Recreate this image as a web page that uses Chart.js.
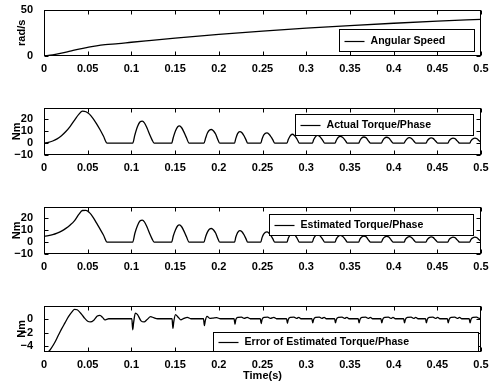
<!DOCTYPE html>
<html><head><meta charset="utf-8">
<script src="https://cdn.jsdelivr.net/npm/chart.js@4.4.0/dist/chart.umd.min.js"></script>
<style>
html,body{margin:0;padding:0;background:#fff;}
#wrap{position:relative;width:494px;height:383px;background:#fff;overflow:hidden;}
canvas{position:absolute;left:0;}
</style></head><body>
<div id="wrap">
<canvas id="c1" width="494" height="80" style="top:0px"></canvas>
<canvas id="c2" width="494" height="80" style="top:98px"></canvas>
<canvas id="c3" width="494" height="80" style="top:197px"></canvas>
<canvas id="c4" width="494" height="87" style="top:296px"></canvas>
</div>
<script>
// ---------- DATA ----------
const xTicks = [0, 0.05, 0.1, 0.15, 0.2, 0.25, 0.3, 0.35, 0.4, 0.45, 0.5];
const xTickLabels = ['0', '0.05', '0.1', '0.15', '0.2', '0.25', '0.3', '0.35', '0.4', '0.45', '0.5'];

const speedTicks = [0, 50];
const speedTickLabels = ['0', '50'];
const torqueTicks = [-10, 0, 10, 20];
const torqueTickLabels = ['\u221210', '0', '10', '20'];
const errorTicks = [-4, -2, 0];
const errorTickLabels = ['\u22124', '\u22122', '0'];

const speedTime = [0, 0.01, 0.02, 0.03, 0.04, 0.05, 0.06, 0.07, 0.085, 0.1, 0.12, 0.15, 0.2, 0.25, 0.3, 0.35, 0.4, 0.45, 0.5];
const speedValue = [0, 1.2, 3.0, 5.2, 7.4, 9.3, 11.0, 12.2, 13.3, 14.8, 16.6, 19.2, 23.2, 26.8, 30.0, 32.8, 35.3, 37.6, 39.5];

const torqueTime = [
 0, 0.005, 0.01, 0.015, 0.02, 0.025, 0.03, 0.035, 0.04, 0.044, 0.048, 0.052, 0.056, 0.06, 0.064, 0.068, 0.0722,
 0.1015, 0.104, 0.107, 0.110, 0.1125, 0.115, 0.118, 0.121, 0.1235, 0.126,
 0.146, 0.148, 0.1505, 0.153, 0.155, 0.1575, 0.160, 0.163, 0.166,
 0.183, 0.185, 0.187, 0.1895, 0.1915, 0.194, 0.1965, 0.1985, 0.201,
 0.218, 0.2195, 0.2215, 0.224, 0.2265, 0.229, 0.231, 0.233,
 0.248, 0.2495, 0.2515, 0.255, 0.2575, 0.26, 0.262, 0.264,
 0.278, 0.2795, 0.2815, 0.284, 0.2865, 0.289, 0.2905, 0.292,
 0.307, 0.3085, 0.3105, 0.313, 0.3155, 0.318, 0.3195, 0.321,
 0.333, 0.3345, 0.3365, 0.339, 0.3415, 0.344, 0.3455, 0.347,
 0.360, 0.3615, 0.3635, 0.366, 0.3685, 0.3705, 0.372, 0.3735,
 0.386, 0.3875, 0.3895, 0.392, 0.3945, 0.3965, 0.398, 0.3995,
 0.412, 0.4135, 0.4155, 0.418, 0.4205, 0.4225, 0.424, 0.4255,
 0.437, 0.4385, 0.4405, 0.443, 0.4455, 0.4475, 0.449, 0.4505,
 0.462, 0.4635, 0.4655, 0.468, 0.4705, 0.4725, 0.474, 0.4755,
 0.487, 0.4885, 0.4905, 0.493, 0.4955, 0.4975, 0.5
];
const actualTorque = [
 0, 0.6, 1.8, 3.6, 6.3, 9.8, 14.2, 19.5, 24.5, 27.0, 26.5, 24.5, 21.0, 16.5, 11.5, 6.0, 0,
 0, 7, 14, 18, 18.6, 17, 12.5, 7, 3, 0,
 0, 5, 10.5, 13.8, 14.5, 13, 9.5, 4.5, 0,
 0, 4.5, 8.5, 11, 11.5, 10.3, 7.5, 3.8, 0,
 0, 4, 8, 9.8, 8.8, 6, 3, 0,
 0, 3.5, 7, 8.6, 7.5, 5, 2.5, 0,
 0, 3, 6, 7.5, 6.5, 4, 2, 0,
 0, 2.8, 5.3, 6.5, 5.6, 3.3, 1.6, 0,
 0, 2.5, 4.8, 5.8, 5, 3, 1.4, 0,
 0, 2.2, 4.3, 5.2, 4.5, 2.6, 1.2, 0,
 0, 2.1, 4.1, 5.0, 4.3, 2.5, 1.1, 0,
 0, 2, 3.8, 4.6, 4, 2.3, 1, 0,
 0, 1.9, 3.6, 4.4, 3.8, 2.2, 1, 0,
 0, 1.9, 3.5, 4.3, 3.7, 2.1, 0.9, 0,
 0, 1.9, 3.5, 4.3, 3.7, 2.2, 0.8
];
const estimatedTorque = [
 5.0, 5.5, 6.3, 7.6, 9.3, 11.6, 14.5, 18.2, 23.6, 26.7, 26.8, 24.9, 21.2, 16.2, 11.2, 6.0, 0,
 0, 7.5, 14, 18, 18.6, 17, 12.5, 7, 3, 0,
 0, 5.4, 10.5, 13.8, 14.5, 13, 9.5, 4.5, 0,
 0, 4.8, 8.5, 11, 11.5, 10.3, 7.5, 3.8, 0,
 0, 4.3, 8, 9.8, 8.8, 6, 3, 0,
 0, 3.8, 7, 8.6, 7.5, 5, 2.5, 0,
 0, 3.3, 6, 7.5, 6.5, 4, 2, 0,
 0, 3.1, 5.3, 6.5, 5.6, 3.3, 1.6, 0,
 0, 2.8, 4.8, 5.8, 5, 3, 1.4, 0,
 0, 2.5, 4.3, 5.2, 4.5, 2.6, 1.2, 0,
 0, 2.4, 4.1, 5.0, 4.3, 2.5, 1.1, 0,
 0, 2.3, 3.8, 4.6, 4, 2.3, 1, 0,
 0, 2.2, 3.6, 4.4, 3.8, 2.2, 1, 0,
 0, 2.2, 3.5, 4.3, 3.7, 2.1, 0.9, 0,
 0, 2.2, 3.5, 4.3, 3.7, 2.2, 0.8
];

const errorTime = [
 0, 0.004, 0.008, 0.012, 0.016, 0.02, 0.024, 0.028, 0.032, 0.035, 0.038, 0.042, 0.046, 0.05, 0.053, 0.057, 0.061, 0.064, 0.067, 0.0695, 0.0715, 0.074,
 0.1005, 0.1015, 0.1025, 0.1045, 0.107, 0.111, 0.1145, 0.118, 0.122, 0.1255, 0.13,
 0.1465, 0.1475, 0.1485, 0.1505, 0.153, 0.1565, 0.16, 0.164, 0.168,
 0.1825, 0.1835, 0.1845, 0.1865, 0.19, 0.1935, 0.1975, 0.202,
 0.2175, 0.2185, 0.2195, 0.222, 0.226, 0.229, 0.2325, 0.236,
 0.2475, 0.2485, 0.2495, 0.252, 0.256, 0.259, 0.263, 0.266,
 0.2775, 0.2785, 0.2795, 0.282, 0.286, 0.289, 0.2915, 0.294,
 0.3065, 0.3075, 0.3085, 0.311, 0.315, 0.318, 0.3205, 0.323,
 0.3325, 0.3335, 0.3345, 0.337, 0.341, 0.344, 0.3465, 0.349,
 0.3595, 0.3605, 0.3615, 0.364, 0.368, 0.371, 0.3733, 0.376,
 0.3855, 0.3865, 0.3875, 0.39, 0.394, 0.397, 0.3993, 0.402,
 0.4115, 0.4125, 0.4135, 0.416, 0.42, 0.423, 0.4253, 0.428,
 0.4365, 0.4375, 0.4385, 0.441, 0.445, 0.448, 0.4503, 0.453,
 0.4615, 0.4625, 0.4635, 0.466, 0.47, 0.473, 0.4753, 0.478,
 0.4865, 0.4875, 0.4885, 0.491, 0.495, 0.498, 0.5
];
const errorValue = [
 -5.3, -4.9, -4.3, -3.5, -2.5, -1.5, -0.6, 0.3, 1.0, 1.35, 1.3, 0.8, 0.15, -0.35, -0.45, -0.2, 0.4, 0.5, 0.2, -0.15, -0.1, 0,
 0, -1.6, -0.6, 0.8, 0.6, -0.3, -0.45, -0.1, 0.3, 0.15, 0,
 0, -1.4, -0.4, 0.6, 0.3, -0.15, 0.05, 0.2, 0,
 0, -1.0, -0.3, 0.35, 0.05, 0.1, 0.15, 0,
 0, -0.8, -0.1, 0.2, 0.25, 0.05, 0.2, 0,
 0, -0.7, -0.1, 0.2, 0.25, 0.05, 0.2, 0,
 0, -0.65, -0.1, 0.2, 0.25, 0.05, 0.2, 0,
 0, -0.6, -0.1, 0.2, 0.25, 0.05, 0.2, 0,
 0, -0.6, -0.1, 0.2, 0.25, 0.05, 0.2, 0,
 0, -0.6, -0.1, 0.2, 0.25, 0.05, 0.2, 0,
 0, -0.6, -0.1, 0.2, 0.25, 0.05, 0.2, 0,
 0, -0.6, -0.1, 0.2, 0.25, 0.05, 0.2, 0,
 0, -0.6, -0.1, 0.2, 0.25, 0.05, 0.2, 0,
 0, -0.6, -0.1, 0.2, 0.25, 0.05, 0.2, 0,
 0, -0.6, -0.1, 0.2, 0.25, 0.05, 0.1
];

// ---------- RENDERING ----------
const FONT = '"Liberation Sans", Arial, Helvetica, sans-serif';
Chart.defaults.font.family = FONT;
Chart.defaults.font.size = 11;
Chart.defaults.font.weight = 'bold';
Chart.defaults.color = '#000';

const matlabBox = {
  id: 'matlabBox',
  afterDatasetsDraw(chart, args, opts) {
    const ctx = chart.ctx, a = chart.chartArea, xs = chart.scales.x, ys = chart.scales.y;
    ctx.save();
    ctx.strokeStyle = '#000';
    ctx.lineWidth = 1;
    const L = Math.round(a.left) + 0.5, R = Math.round(a.right) - 0.5;
    const T = Math.round(a.top) + 0.5, B = Math.round(a.bottom) - 0.5;
    ctx.strokeRect(L, T, R - L, B - T);
    const TL = 4;
    ctx.beginPath();
    xs.ticks.forEach(t => {
      const px = Math.round(xs.getPixelForValue(t.value)) + 0.5;
      ctx.moveTo(px, T); ctx.lineTo(px, T + TL);
      ctx.moveTo(px, B); ctx.lineTo(px, B - TL);
    });
    ys.ticks.forEach(t => {
      const py = Math.round(ys.getPixelForValue(t.value)) + 0.5;
      ctx.moveTo(L, py); ctx.lineTo(L + TL, py);
      ctx.moveTo(R, py); ctx.lineTo(R - TL, py);
    });
    ctx.stroke();

    // legend box inside axes
    const lg = opts.legend;
    const ds = chart.data.datasets[0];
    const bx = Math.round(a.right - lg.rightGap - lg.w) + 0.5;
    const by = Math.round(a.top + lg.topOff) + 0.5;
    ctx.fillStyle = '#fff';
    ctx.fillRect(bx, by, lg.w, lg.h);
    ctx.strokeRect(bx, by, lg.w, lg.h);
    const my = Math.round(by + lg.h / 2) + 0.5;
    ctx.lineWidth = 1.2;
    ctx.beginPath();
    ctx.moveTo(bx + 5, my); ctx.lineTo(bx + 25, my);
    ctx.stroke();
    ctx.fillStyle = '#000';
    ctx.font = 'bold 10.6px ' + FONT;
    ctx.textBaseline = 'middle';
    ctx.textAlign = 'left';
    ctx.fillText(ds.label, bx + 31, by + lg.h / 2 + 0.5);

    // y axis title
    ctx.font = 'bold 11px ' + FONT;
    ctx.save();
    ctx.translate(opts.yTitleX, (a.top + a.bottom) / 2);
    ctx.rotate(-Math.PI / 2);
    ctx.textAlign = 'center';
    ctx.textBaseline = 'middle';
    ctx.fillText(opts.yTitle, 0, 0);
    ctx.restore();

    if (opts.xTitle) {
      ctx.textAlign = 'center';
      ctx.textBaseline = 'middle';
      ctx.fillText(opts.xTitle, (a.left + a.right) / 2, opts.xTitleY);
    }
    ctx.restore();
  }
};

function pts(t, v) { return t.map((x, i) => ({ x: x, y: v[i] })); }

function makeChart(id, cfg) {
  const canvas = document.getElementById(id);
  return new Chart(canvas, {
    type: 'line',
    data: { datasets: [{
      label: cfg.label, data: pts(cfg.t, cfg.v),
      borderColor: '#000', borderWidth: 1.3, pointRadius: 0,
      cubicInterpolationMode: 'monotone', fill: false
    }]},
    options: {
      responsive: false, animation: false, devicePixelRatio: 1,
      layout: { padding: { top: 9, right: 13, left: 0, bottom: 0 } },
      plugins: {
        legend: { display: false }, tooltip: { enabled: false },
        matlabBox: { legend: cfg.legend, yTitle: cfg.yTitle, yTitleX: cfg.yTitleX, xTitle: cfg.xTitle, xTitleY: cfg.xTitleY }
      },
      scales: {
        x: {
          type: 'linear', min: 0, max: 0.5,
          grid: { display: false }, border: { display: false },
          afterBuildTicks: s => { s.ticks = xTicks.map(v => ({ value: v })); },
          afterFit: s => { s.height = canvas.height - 9 - cfg.plotH; },
          ticks: { autoSkip: false, maxRotation: 0, minRotation: 0, padding: -2, callback: (v, i) => xTickLabels[i] }
        },
        y: {
          type: 'linear', min: cfg.ymin, max: cfg.ymax,
          grid: { display: false }, border: { display: false },
          afterBuildTicks: s => { s.ticks = cfg.yTicks.map(v => ({ value: v })); },
          afterFit: s => { s.width = 44; },
          ticks: { autoSkip: false, padding: 3, callback: (v, i) => cfg.yLabels[i] }
        }
      }
    },
    plugins: [matlabBox]
  });
}

makeChart('c1', { label: 'Angular Speed', t: speedTime, v: speedValue, ymin: 0, ymax: 50,
  yTicks: speedTicks, yLabels: speedTickLabels, plotH: 47, yTitle: 'rad/s', yTitleX: 22,
  legend: { w: 135, h: 22, rightGap: 7, topOff: 19 } });
makeChart('c2', { label: 'Actual Torque/Phase', t: torqueTime, v: actualTorque, ymin: -10, ymax: 30,
  yTicks: torqueTicks, yLabels: torqueTickLabels, plotH: 48, yTitle: 'Nm', yTitleX: 17,
  legend: { w: 178, h: 21, rightGap: 8, topOff: 6 } });
makeChart('c3', { label: 'Estimated Torque/Phase', t: torqueTime, v: estimatedTorque, ymin: -10, ymax: 30,
  yTicks: torqueTicks, yLabels: torqueTickLabels, plotH: 48, yTitle: 'Nm', yTitleX: 17,
  legend: { w: 204, h: 21, rightGap: 8, topOff: 7 } });
makeChart('c4', { label: 'Error of Estimated Torque/Phase', t: errorTime, v: errorValue, ymin: -4.8, ymax: 1.9,
  yTicks: errorTicks, yLabels: errorTickLabels, plotH: 47, yTitle: 'Nm', yTitleX: 22,
  legend: { w: 265, h: 19, rightGap: 3, topOff: 26 }, xTitle: 'Time(s)', xTitleY: 80 });
</script>
</body></html>
